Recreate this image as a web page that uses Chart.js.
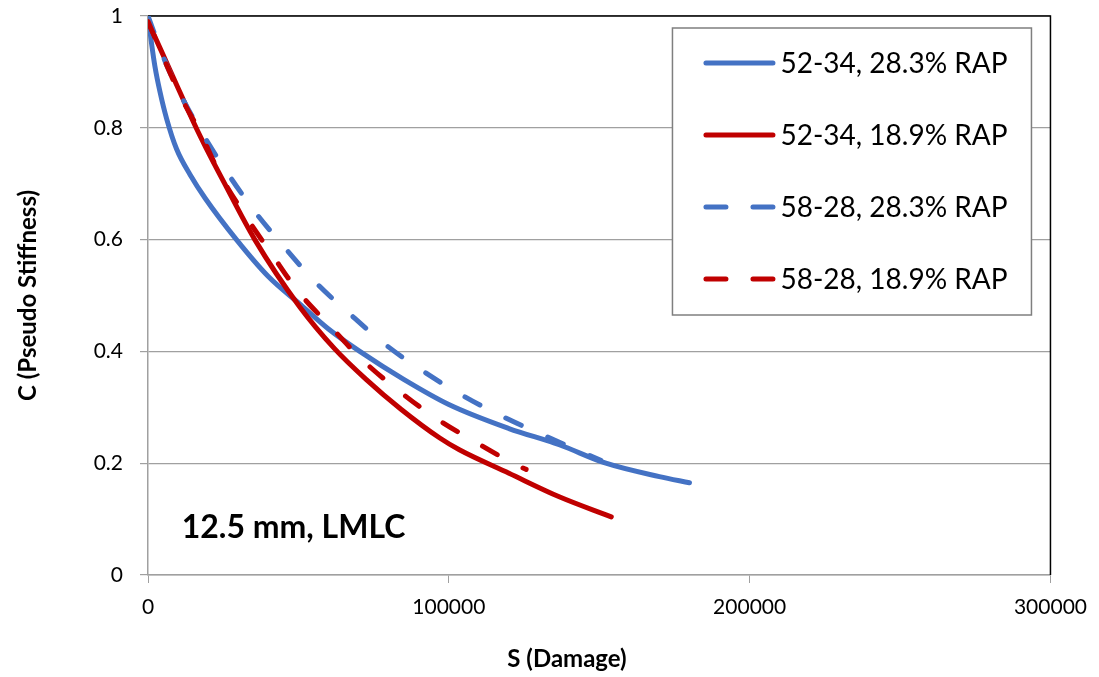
<!DOCTYPE html>
<html>
<head>
<meta charset="utf-8">
<script src="https://cdn.jsdelivr.net/npm/chart.js@4"></script>
<style>
  html, body { margin: 0; padding: 0; background: #fff; }
  #wrap { width: 1099px; height: 677px; }
</style>
</head>
<body>
<div id="wrap"><canvas id="myChart" width="1099" height="677"></canvas></div>
<script>
// S (Damage) / C (Pseudo Stiffness) pairs per mixture
const s_52_34_283 = [0, 1200, 2300, 4000, 6200, 9500, 14000, 19000, 29400, 40000, 50400, 60000, 70400, 85000, 100000, 120000, 136700, 152200, 170000, 180000];
const c_52_34_283 = [1.0, 0.95, 0.91, 0.864, 0.816, 0.762, 0.716, 0.674, 0.60, 0.534, 0.485, 0.44, 0.40, 0.35, 0.305, 0.262, 0.233, 0.20, 0.176, 0.165];

const s_52_34_189 = [0, 8000, 16000, 19200, 25000, 35500, 50400, 62000, 72500, 84000, 97000, 103500, 120000, 136700, 154000];
const c_52_34_189 = [0.99, 0.895, 0.80, 0.765, 0.705, 0.60, 0.48, 0.405, 0.35, 0.297, 0.245, 0.224, 0.182, 0.140, 0.104];

const s_58_28_283 = [0, 5600, 12300, 18600, 26800, 35800, 45700, 56000, 67300, 79200, 91900, 104900, 118800, 132800, 150500];
const c_58_28_283 = [1.0, 0.92, 0.844, 0.785, 0.716, 0.648, 0.584, 0.522, 0.466, 0.411, 0.363, 0.32, 0.281, 0.247, 0.205];

const s_58_28_189 = [0, 11000, 17500, 23900, 32200, 41000, 49800, 60400, 71200, 83000, 95300, 108800, 122400, 125700];
const c_58_28_189 = [0.99, 0.855, 0.79, 0.717, 0.644, 0.575, 0.508, 0.446, 0.385, 0.331, 0.282, 0.238, 0.197, 0.189];

const seriesLabels = ['52-34, 28.3% RAP', '52-34, 18.9% RAP', '58-28, 28.3% RAP', '58-28, 18.9% RAP'];
const xTicks = [0, 100000, 200000, 300000];
const yTicks = [0, 0.2, 0.4, 0.6, 0.8, 1];

const BLUE = '#4472C4';
const RED = '#C00000';
const FONT = 'Lato, Calibri, sans-serif';

const toPoints = (xs, ys) => xs.map((x, i) => ({ x: x, y: ys[i] }));

function lineSet(label, xs, ys, color, dashed, order) {
  return {
    label: label,
    data: toPoints(xs, ys),
    borderColor: color,
    backgroundColor: color,
    borderWidth: 5,
    borderDash: dashed ? [17, 29] : [],
    borderCapStyle: 'round',
    borderJoinStyle: 'round',
    pointRadius: 0,
    fill: false,
    cubicInterpolationMode: 'monotone',
    order: order
  };
}

const data = {
  datasets: [
    lineSet(seriesLabels[0], s_52_34_283, c_52_34_283, BLUE, false, 4),
    lineSet(seriesLabels[1], s_52_34_189, c_52_34_189, RED, false, 3),
    lineSet(seriesLabels[2], s_58_28_283, c_58_28_283, BLUE, true, 2),
    lineSet(seriesLabels[3], s_58_28_189, c_58_28_189, RED, true, 1)
  ]
};

// black frame on the top and right of the plot area
const frame = {
  id: 'frame',
  beforeDatasetsDraw(chart) {
    const { ctx, chartArea: a } = chart;
    ctx.save();
    ctx.strokeStyle = '#000';
    ctx.lineWidth = 1.5;
    ctx.beginPath();
    ctx.moveTo(a.left, a.top);
    ctx.lineTo(a.right, a.top);
    ctx.lineTo(a.right, a.bottom);
    ctx.stroke();
    ctx.restore();
  }
};

// boxed legend inside the plot area, the mixture note and the S axis title
const boxLegend = {
  id: 'boxLegend',
  afterDraw(chart) {
    const { ctx, chartArea: a } = chart;
    const bx = a.right - 378, by = a.top + 12, bw = 359, bh = 287;
    ctx.save();
    ctx.fillStyle = '#fff';
    ctx.fillRect(bx, by, bw, bh);
    ctx.strokeStyle = '#7f7f7f';
    ctx.lineWidth = 1.5;
    ctx.strokeRect(bx, by, bw, bh);

    ctx.font = '28px ' + FONT;
    ctx.textBaseline = 'middle';
    ctx.textAlign = 'left';
    chart.data.datasets.forEach((ds, i) => {
      const y = by + 35 + i * 72;
      ctx.strokeStyle = ds.borderColor;
      ctx.lineWidth = 5;
      ctx.lineCap = 'round';
      ctx.setLineDash(ds.borderDash.length ? [20, 27] : []);
      ctx.beginPath();
      ctx.moveTo(bx + 33.5, y);
      ctx.lineTo(bx + 100.5, y);
      ctx.stroke();
      ctx.setLineDash([]);
      ctx.fillStyle = '#000';
      ctx.fillText(ds.label, bx + 108, y + 1);
    });

    const xs = chart.scales.x, ys = chart.scales.y;
    ctx.font = 'bold 32px ' + FONT;
    ctx.fillText('12.5 mm, LMLC', xs.getPixelForValue(11200), ys.getPixelForValue(0.084));

    ctx.font = 'bold 24px ' + FONT;
    ctx.textAlign = 'center';
    ctx.fillText('S (Damage)', 567, 659);
    ctx.restore();
  }
};

const ctx = document.getElementById('myChart');
const myChart = new Chart(ctx, {
  type: 'line',
  data: data,
  plugins: [frame, boxLegend],
  options: {
    responsive: false,
    animation: false,
    layout: { padding: { left: 0, right: 47, top: 16, bottom: 0 } },
    plugins: {
      legend: { display: false },
      tooltip: { enabled: false }
    },
    scales: {
      x: {
        type: 'linear',
        min: 0,
        max: 300000,
        afterBuildTicks: (scale) => { scale.ticks = xTicks.map(v => ({ value: v })); },
        afterFit: (scale) => { scale.height = 102; },
        ticks: {
          color: '#000',
          font: { family: FONT, size: 21 },
          padding: 12,
          maxRotation: 0,
          callback: (v) => String(v)
        },
        grid: {
          drawOnChartArea: false,
          drawTicks: true,
          tickLength: 8,
          color: '#a0a0a0'
        },
        border: { color: '#a0a0a0', width: 1.5 }
      },
      y: {
        min: 0,
        max: 1,
        afterBuildTicks: (scale) => { scale.ticks = yTicks.map(v => ({ value: v })); },
        afterFit: (scale) => {
          scale.width = 148;
          // let the layout padding alone decide where the plot starts
          scale.paddingTop = 0;
          scale.paddingBottom = 0;
        },
        ticks: {
          color: '#000',
          font: { family: FONT, size: 21 },
          padding: 17,
          callback: (v) => String(v)
        },
        grid: {
          color: '#a0a0a0',
          lineWidth: 1.2,
          tickLength: 8
        },
        border: { color: '#a0a0a0', width: 1.5 },
        title: {
          display: true,
          text: 'C (Pseudo Stiffness)',
          color: '#000',
          font: { family: FONT, size: 24, weight: 'bold' },
          padding: { top: 14, bottom: 0 }
        }
      }
    }
  }
});
</script>
</body>
</html>
